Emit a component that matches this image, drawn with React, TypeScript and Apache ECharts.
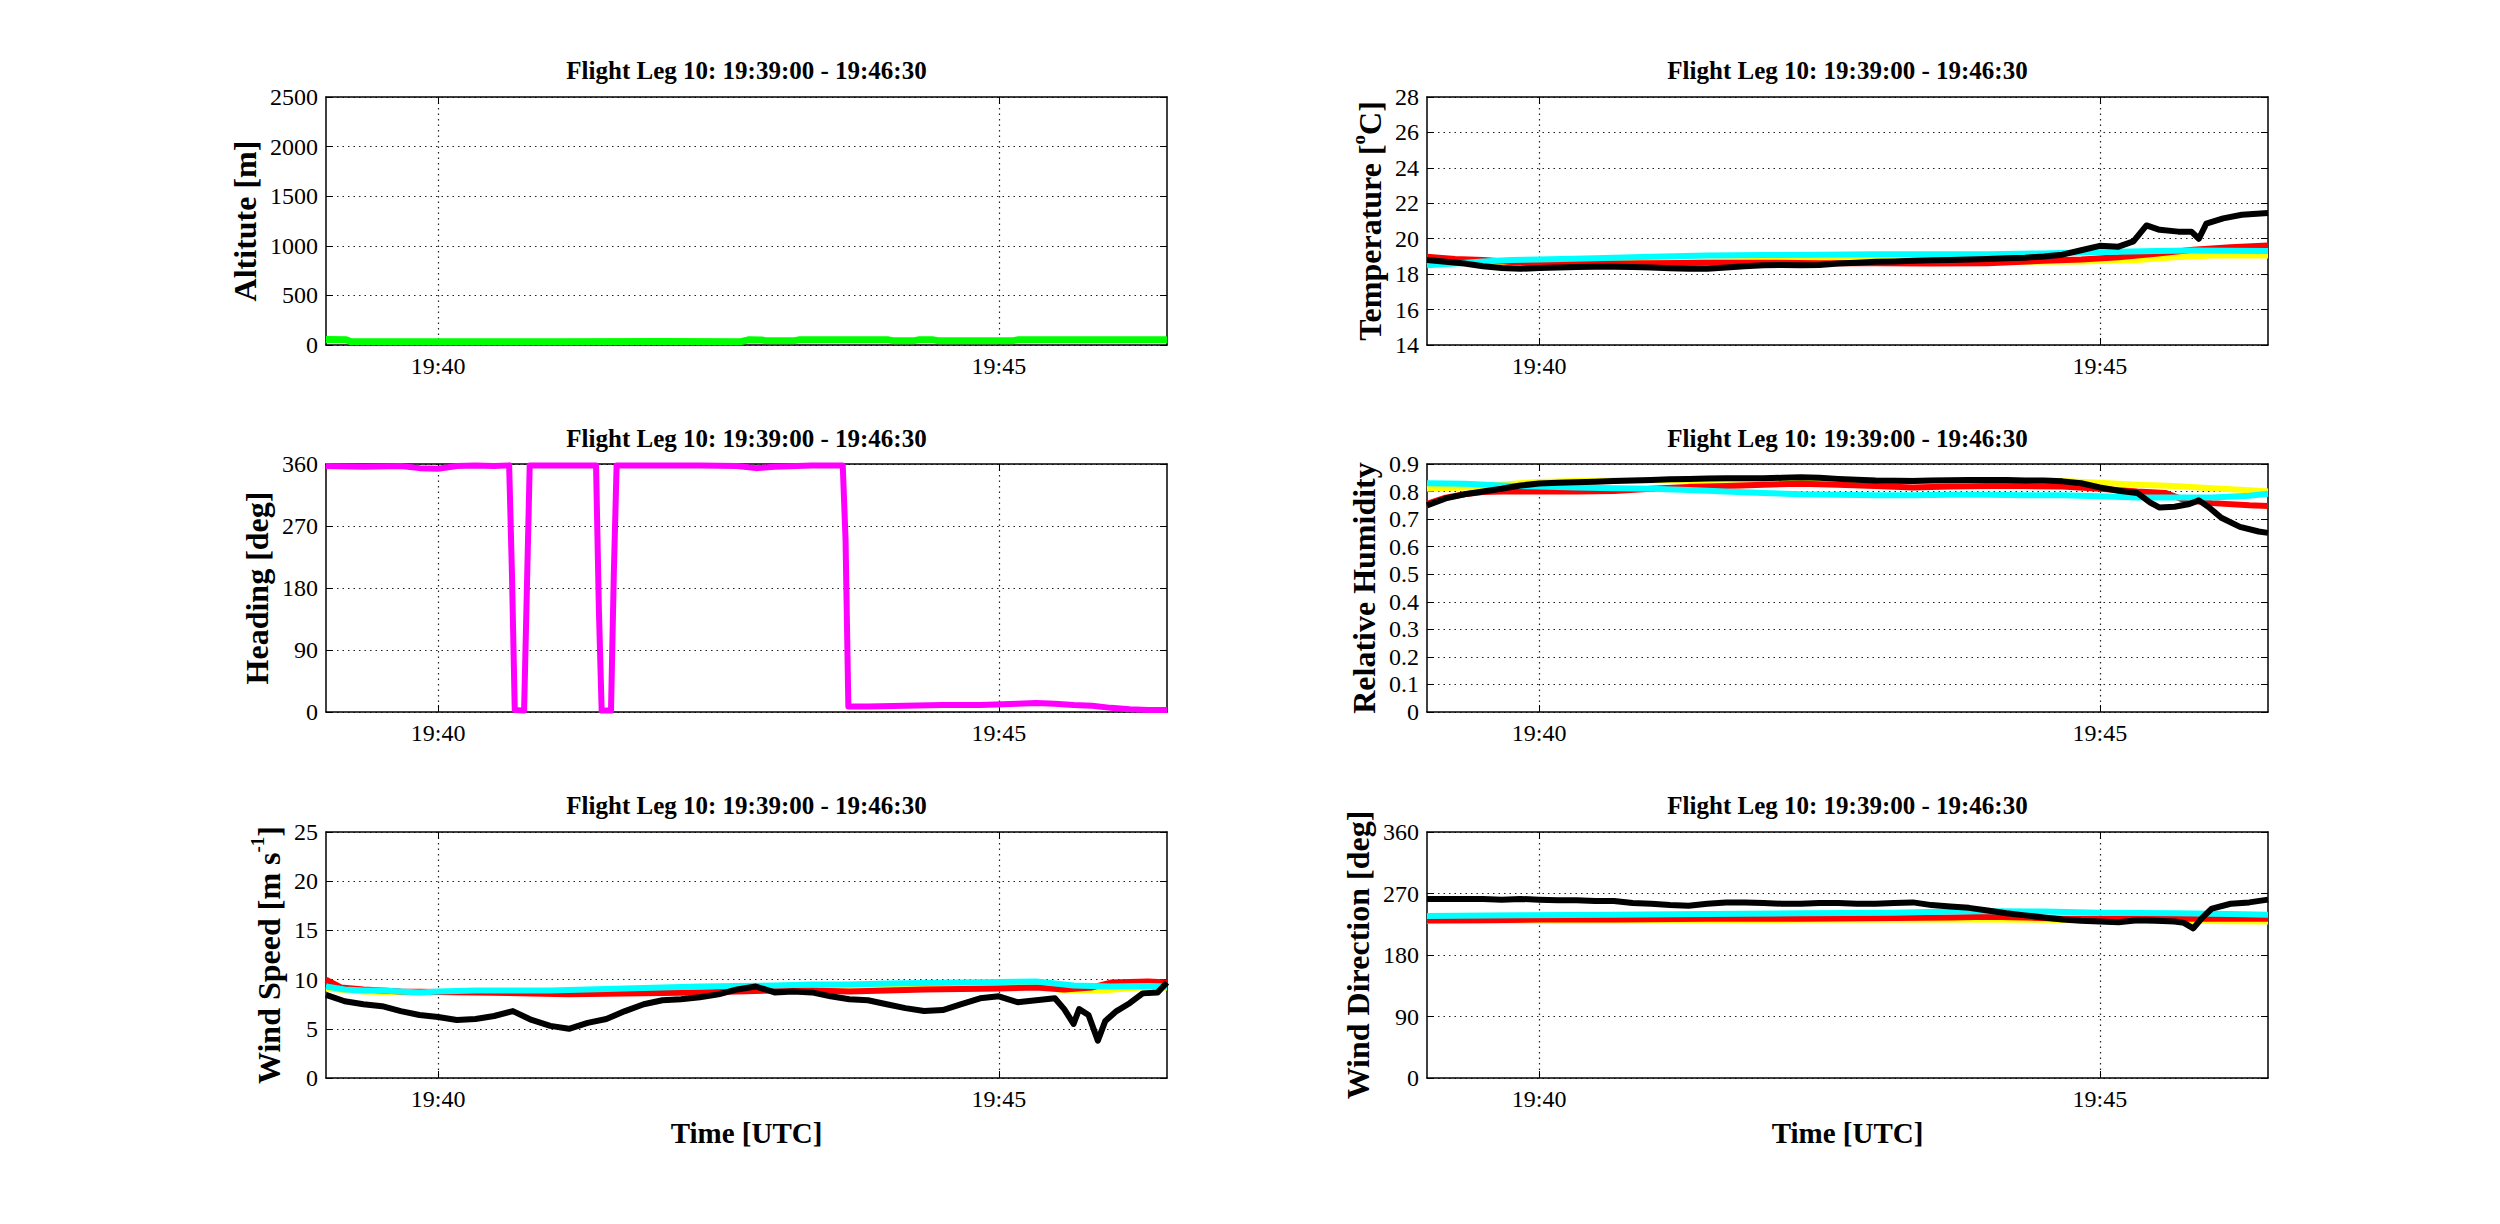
import React, { useEffect, useRef } from "react";
import * as echarts from "echarts";

type P = [number, number][];

// ---------- labels ----------
const TITLE = "Flight Leg 10: 19:39:00 - 19:46:30";
const TIME_TICKS = [60, 360]; // seconds after 19:39:00
const TIME_TICK_LABELS = ["19:40", "19:45"];
const X_NAME = "Time [UTC]";

// ---------- data: [seconds after 19:39:00, value] ----------
const altitude: P = [
  [0, 55], [11, 52], [13, 35], [60, 34], [120, 34], [180, 35], [222, 34], [226, 52], [233, 51],
  [236, 42], [250, 42], [253, 52], [280, 52], [301, 52], [304, 42], [314, 42], [317, 52], [325, 52],
  [328, 42], [367, 42], [370, 52], [410, 52], [450, 52],
];

const heading: P = [
  [0, 357], [20, 356], [40, 357], [50, 354], [60, 353], [70, 357], [80, 358], [90, 357], [98, 358],
  [99.5, 200], [101, 3], [106, 2], [107.5, 180], [109, 358], [120, 358], [144.5, 358], [146, 150],
  [147.5, 2], [152.5, 2], [154, 200], [155.5, 358], [180, 358], [200, 358], [220, 357], [230, 354],
  [240, 356], [260, 358], [276.5, 358], [278, 250], [279.5, 8], [290, 8], [310, 9], [330, 10],
  [350, 10], [370, 12], [380, 13], [390, 12], [400, 10], [410, 9], [420, 6], [430, 4], [440, 3], [450, 3],
];

const tempYellow: P = [
  [0, 18.75], [40, 18.5], [80, 18.6], [120, 18.68], [160, 18.72], [200, 18.78], [240, 18.78],
  [280, 18.75], [320, 18.7], [350, 18.72], [380, 18.8], [400, 18.95], [420, 19.05], [450, 19.05],
];
const tempRed: P = [
  [0, 18.98], [15, 18.85], [30, 18.8], [45, 18.68], [60, 18.6], [90, 18.6], [120, 18.62], [150, 18.65],
  [180, 18.65], [210, 18.62], [240, 18.62], [270, 18.6], [300, 18.62], [330, 18.75], [350, 18.82],
  [370, 18.95], [390, 19.15], [410, 19.38], [430, 19.52], [450, 19.62],
];
const tempCyan: P = [
  [0, 18.5], [15, 18.6], [30, 18.72], [45, 18.8], [60, 18.83], [90, 18.9], [120, 18.98], [150, 19.05],
  [180, 19.08], [210, 19.1], [240, 19.12], [270, 19.12], [300, 19.13], [330, 19.17], [350, 19.22],
  [370, 19.27], [390, 19.3], [410, 19.33], [430, 19.32], [450, 19.3],
];
const tempBlack: P = [
  [0, 18.8], [10, 18.7], [20, 18.6], [30, 18.45], [40, 18.35], [50, 18.3], [60, 18.35], [70, 18.38],
  [80, 18.4], [90, 18.42], [100, 18.42], [110, 18.4], [120, 18.38], [130, 18.33], [140, 18.3],
  [150, 18.3], [160, 18.38], [170, 18.45], [180, 18.5], [190, 18.52], [200, 18.5], [210, 18.52],
  [220, 18.6], [230, 18.65], [240, 18.7], [250, 18.72], [260, 18.75], [270, 18.78], [280, 18.8],
  [290, 18.83], [300, 18.86], [310, 18.9], [320, 18.93], [330, 19.0], [340, 19.1], [350, 19.35],
  [360, 19.6], [370, 19.55], [378, 19.85], [385, 20.75], [392, 20.5], [402, 20.4], [409, 20.4],
  [413, 20.0], [417, 20.85], [426, 21.15], [436, 21.35], [450, 21.45],
];

const rhYellow: P = [
  [0, 0.81], [20, 0.815], [40, 0.825], [60, 0.835], [80, 0.838], [100, 0.84], [150, 0.842],
  [200, 0.845], [250, 0.84], [300, 0.84], [340, 0.838], [360, 0.832], [380, 0.825], [400, 0.82],
  [420, 0.812], [440, 0.805], [450, 0.8],
];
const rhRed: P = [
  [0, 0.755], [10, 0.778], [20, 0.79], [30, 0.798], [40, 0.8], [60, 0.8], [80, 0.8], [100, 0.802],
  [120, 0.81], [140, 0.817], [160, 0.82], [180, 0.825], [200, 0.828], [220, 0.825], [240, 0.82],
  [260, 0.815], [280, 0.818], [300, 0.82], [320, 0.82], [340, 0.818], [360, 0.81], [380, 0.8],
  [395, 0.795], [405, 0.77], [420, 0.758], [440, 0.75], [450, 0.748],
];
const rhCyan: P = [
  [0, 0.83], [20, 0.828], [40, 0.822], [60, 0.818], [80, 0.815], [100, 0.812], [120, 0.81],
  [140, 0.806], [160, 0.8], [180, 0.795], [200, 0.79], [220, 0.788], [240, 0.787], [260, 0.787],
  [280, 0.788], [300, 0.788], [320, 0.787], [340, 0.787], [360, 0.783], [380, 0.778], [400, 0.778],
  [420, 0.778], [440, 0.785], [450, 0.792],
];
const rhBlack: P = [
  [0, 0.75], [10, 0.775], [20, 0.79], [30, 0.8], [40, 0.81], [50, 0.822], [60, 0.829], [70, 0.832],
  [80, 0.834], [90, 0.836], [100, 0.838], [110, 0.84], [120, 0.842], [130, 0.845], [140, 0.846],
  [150, 0.847], [160, 0.848], [170, 0.848], [180, 0.848], [190, 0.85], [200, 0.852], [210, 0.85],
  [220, 0.846], [230, 0.843], [240, 0.84], [250, 0.839], [260, 0.838], [270, 0.84], [280, 0.841],
  [290, 0.842], [300, 0.842], [310, 0.842], [320, 0.84], [330, 0.84], [340, 0.837], [350, 0.83],
  [360, 0.815], [370, 0.803], [380, 0.795], [387, 0.76], [392, 0.742], [400, 0.745], [408, 0.755],
  [413, 0.768], [418, 0.745], [425, 0.705], [435, 0.672], [445, 0.655], [450, 0.65],
];

const wsYellow: P = [
  [0, 9.1], [20, 8.8], [40, 8.7], [60, 8.7], [100, 8.8], [150, 8.9], [200, 9.1], [250, 9.3],
  [300, 9.4], [350, 9.5], [380, 9.4], [395, 8.9], [415, 8.9], [435, 9.2], [450, 9.2],
];
const wsRed: P = [
  [0, 10.0], [8, 9.2], [20, 9.0], [40, 8.8], [80, 8.7], [110, 8.6], [130, 8.5], [160, 8.6],
  [200, 8.7], [220, 8.8], [240, 8.9], [260, 8.9], [280, 8.8], [300, 8.9], [320, 9.0], [340, 9.05],
  [360, 9.1], [380, 9.2], [395, 9.0], [410, 9.2], [420, 9.7], [440, 9.8], [450, 9.7],
];
const wsCyan: P = [
  [0, 9.3], [10, 9.0], [20, 8.9], [30, 8.9], [40, 8.8], [50, 8.7], [60, 8.8], [80, 8.9], [100, 8.9],
  [120, 8.9], [140, 9.0], [160, 9.1], [180, 9.2], [200, 9.3], [220, 9.35], [240, 9.4], [260, 9.5],
  [280, 9.5], [300, 9.6], [320, 9.65], [340, 9.7], [360, 9.75], [380, 9.8], [390, 9.6], [400, 9.4],
  [420, 9.3], [440, 9.35], [450, 9.3],
];
const wsBlack: P = [
  [0, 8.45], [10, 7.8], [20, 7.5], [30, 7.3], [40, 6.8], [50, 6.4], [60, 6.2], [70, 5.9], [80, 6.0],
  [90, 6.3], [100, 6.8], [110, 5.9], [120, 5.3], [130, 5.0], [140, 5.6], [150, 6.0], [160, 6.8],
  [170, 7.5], [180, 7.9], [190, 8.0], [200, 8.2], [210, 8.5], [220, 9.0], [230, 9.3], [240, 8.7],
  [250, 8.8], [260, 8.7], [270, 8.3], [280, 8.0], [290, 7.9], [300, 7.5], [310, 7.1], [320, 6.8],
  [330, 6.9], [340, 7.5], [350, 8.1], [360, 8.3], [370, 7.7], [380, 7.9], [390, 8.1], [395, 7.0],
  [400, 5.5], [403, 7.0], [408, 6.4], [413, 3.8], [417, 5.8], [423, 6.8], [430, 7.6], [437, 8.6],
  [445, 8.7], [450, 9.7],
];

const wdYellow: P = [
  [0, 230], [100, 230.5], [200, 231.5], [300, 232], [350, 231], [400, 230], [450, 229],
];
const wdRed: P = [
  [0, 230.5], [30, 231], [60, 232], [100, 232], [150, 233], [200, 233], [250, 234], [280, 235],
  [300, 236], [320, 235], [340, 233], [360, 233], [400, 233], [440, 233], [450, 233],
];
const wdCyan: P = [
  [0, 237], [50, 238], [100, 239], [150, 240], [200, 241], [250, 242], [280, 243.5], [300, 244],
  [330, 243.5], [360, 242], [400, 241], [430, 240], [450, 239],
];
const wdBlack: P = [
  [0, 262], [10, 262], [20, 262], [30, 262], [40, 261], [50, 262], [60, 261], [70, 260], [80, 260],
  [90, 259], [100, 259], [110, 256], [120, 255], [130, 253], [140, 252], [150, 255], [160, 257],
  [170, 257], [180, 256], [190, 255], [200, 255], [210, 256], [220, 256], [230, 255], [240, 255],
  [250, 256], [260, 257], [270, 253], [280, 251], [290, 249], [300, 245], [310, 241], [320, 238],
  [330, 235], [340, 232], [350, 230], [360, 229], [370, 228], [380, 231], [390, 230], [400, 229],
  [405, 227], [410, 219], [415, 235], [420, 248], [430, 255], [440, 257], [450, 261],
];

// ---------- style / layout ----------
const FONT = "'Liberation Serif', 'Times New Roman', serif";
const GREEN = "#00ff00";
const MAGENTA = "#ff00ff";
const YELLOW = "#ffff00";
const RED = "#ff0000";
const CYAN = "#00ffff";
const BLACK = "#000000";

const COL_LEFT = [326, 1427];
const GRID_W = 841;
const ROW_TOP = [97, 464, 832];
const ROW_H = [248, 248, 246];
const TITLE_Y = [70.5, 438, 805.5];

interface Panel {
  col: number;
  row: number;
  min: number;
  max: number;
  interval: number;
  name: string;
  gap: number;
  lines: { data: P; color: string; width?: number }[];
  decimals?: boolean;
}

const panels: Panel[] = [
  { col: 0, row: 0, min: 0, max: 2500, interval: 500, name: "Altitute [m]", gap: 78,
    lines: [{ data: altitude, color: GREEN, width: 7 }] },
  { col: 1, row: 0, min: 14, max: 28, interval: 2, name: "Temperature [{sup|o}C]", gap: 56,
    lines: [
      { data: tempYellow, color: YELLOW }, { data: tempRed, color: RED },
      { data: tempCyan, color: CYAN }, { data: tempBlack, color: BLACK },
    ] },
  { col: 0, row: 1, min: 0, max: 360, interval: 90, name: "Heading [deg]", gap: 65,
    lines: [{ data: heading, color: MAGENTA }] },
  { col: 1, row: 1, min: 0, max: 0.9, interval: 0.1, name: "Relative Humidity", gap: 60, decimals: true,
    lines: [
      { data: rhYellow, color: YELLOW }, { data: rhRed, color: RED },
      { data: rhCyan, color: CYAN }, { data: rhBlack, color: BLACK },
    ] },
  { col: 0, row: 2, min: 0, max: 25, interval: 5, name: "Wind Speed [m s{sup|-1}]", gap: 54,
    lines: [
      { data: wsYellow, color: YELLOW }, { data: wsRed, color: RED },
      { data: wsCyan, color: CYAN }, { data: wsBlack, color: BLACK },
    ] },
  { col: 1, row: 2, min: 0, max: 360, interval: 90, name: "Wind Direction [deg]", gap: 66,
    lines: [
      { data: wdYellow, color: YELLOW }, { data: wdRed, color: RED },
      { data: wdCyan, color: CYAN }, { data: wdBlack, color: BLACK },
    ] },
];

function buildOption() {
  const grid: any[] = [];
  const xAxis: any[] = [];
  const yAxis: any[] = [];
  const series: any[] = [];
  const graphic: any[] = [];
  const axisLine = { show: true, onZero: false, lineStyle: { color: "#000", width: 1.5 } };
  const split = { show: true, lineStyle: { color: "#222", width: 1.2, type: [1.5, 4] } };

  panels.forEach((p) => {
    grid.push({ left: COL_LEFT[p.col], top: ROW_TOP[p.row], width: GRID_W, height: ROW_H[p.row] });
    graphic.push({
      type: "text",
      x: COL_LEFT[p.col] + GRID_W / 2,
      y: TITLE_Y[p.row],
      style: {
        text: TITLE, align: "center", verticalAlign: "middle",
        font: `bold 25px ${FONT}`, fill: "#000",
      },
    });
  });

  panels.forEach((p, i) => {
    xAxis.push({
      gridIndex: i, type: "value", min: 0, max: 450, position: "bottom",
      axisLine,
      axisTick: { show: true, inside: true, length: 7, customValues: TIME_TICKS, lineStyle: { color: "#000" } },
      axisLabel: {
        customValues: TIME_TICKS, margin: 9, fontSize: 24, fontFamily: FONT, color: "#000",
        formatter: (v: number) => TIME_TICK_LABELS[TIME_TICKS.indexOf(v)] ?? "",
      },
      splitLine: split,
      name: p.row === 2 ? X_NAME : "",
      nameLocation: "middle",
      nameGap: 55,
      nameTextStyle: { fontSize: 29, fontWeight: "bold", fontFamily: FONT, color: "#000", verticalAlign: "middle", align: "center" },
    });
    yAxis.push({
      gridIndex: i, type: "value", min: p.min, max: p.max, interval: p.interval, position: "left",
      axisLine,
      axisTick: { show: true, inside: true, length: 7, lineStyle: { color: "#000" } },
      axisLabel: {
        margin: 8, fontSize: 24, fontFamily: FONT, color: "#000",
        formatter: (v: number) => (p.decimals ? (Math.abs(v) < 1e-9 ? "0" : v.toFixed(1)) : String(Math.round(v))),
      },
      splitLine: split,
      name: p.name,
      nameLocation: "middle",
      nameGap: p.gap,
      nameRotate: 90,
      nameTextStyle: {
        fontSize: 32, fontWeight: "bold", fontFamily: FONT, color: "#000",
        align: "center", verticalAlign: "middle", lineHeight: 42,
        rich: {
          sup: { fontSize: 19, fontWeight: "bold", fontFamily: FONT, color: "#000", verticalAlign: "top", lineHeight: 19 },
        },
      },
    });
    p.lines.forEach((l, k) => {
      series.push({
        type: "line", xAxisIndex: i, yAxisIndex: i, data: l.data,
        showSymbol: false, symbol: "none", silent: true, z: 2 + k,
        lineStyle: { color: l.color, width: l.width ?? 6, join: "round" },
        itemStyle: { color: l.color },
      });
    });
  });
  // mirrored axes (top / right) to close the box with inner ticks
  panels.forEach((p, i) => {
    xAxis.push({
      gridIndex: i, type: "value", min: 0, max: 450, position: "top",
      axisLine,
      axisTick: { show: true, inside: true, length: 7, customValues: TIME_TICKS, lineStyle: { color: "#000" } },
      axisLabel: { show: false, customValues: TIME_TICKS },
      splitLine: { show: false },
    });
    yAxis.push({
      gridIndex: i, type: "value", min: p.min, max: p.max, interval: p.interval, position: "right",
      axisLine,
      axisTick: { show: true, inside: true, length: 7, lineStyle: { color: "#000" } },
      axisLabel: { show: false },
      splitLine: { show: false },
    });
  });

  return {
    animation: false,
    backgroundColor: "#ffffff",
    textStyle: { fontFamily: FONT },
    grid, xAxis, yAxis, series, graphic,
  };
}

export default function App() {
  const ref = useRef<HTMLDivElement>(null);
  useEffect(() => {
    document.body.style.margin = "0";
    if (!ref.current) return;
    const chart = echarts.init(ref.current, undefined, { renderer: "svg" });
    chart.setOption(buildOption() as any);
    return () => chart.dispose();
  }, []);
  return <div ref={ref} style={{ width: 2500, height: 1224, background: "#fff" }} />;
}
